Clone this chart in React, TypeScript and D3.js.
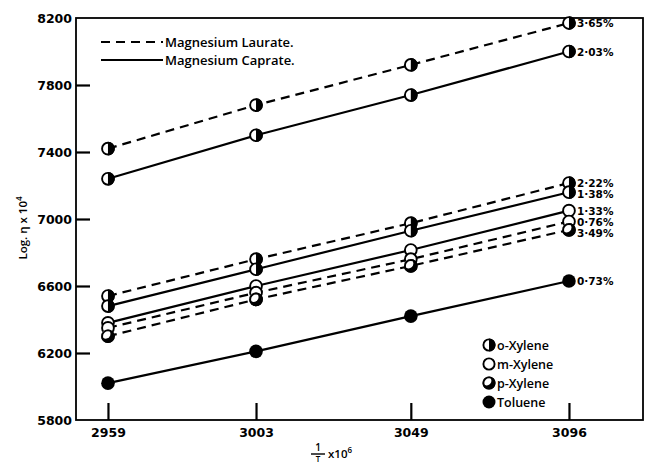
import { useEffect, useRef } from "react";
import * as d3 from "d3";

// 1/T x 10^6
const temps = [2959, 3003, 3049, 3096];
const yTickValues = [5800, 6200, 6600, 7000, 7400, 7800, 8200];

// log viscosity x 10^4
const oXyleneLaurateHigh = [7420, 7680, 7920, 8170];
const oXyleneCaprateHigh = [7240, 7500, 7740, 8000];
const oXyleneLaurateLow = [6540, 6760, 6975, 7215];
const oXyleneCaprateLow = [6480, 6700, 6930, 7160];
const mXyleneCaprate = [6380, 6600, 6815, 7050];
const mXyleneLaurate = [6350, 6560, 6760, 6985];
const pXyleneLaurate = [6300, 6520, 6720, 6935];
const tolueneCaprate = [6020, 6210, 6420, 6630];

const seriesList = [
    { values: oXyleneLaurateHigh, solvent: "o", dashed: true, label: "3·65%" },
    { values: oXyleneCaprateHigh, solvent: "o", dashed: false, label: "2·03%" },
    { values: oXyleneLaurateLow, solvent: "o", dashed: true, label: "2·22%" },
    { values: oXyleneCaprateLow, solvent: "o", dashed: false, label: "1·38%" },
    { values: mXyleneCaprate, solvent: "m", dashed: false, label: "1·33%" },
    { values: mXyleneLaurate, solvent: "m", dashed: true, label: "0·76%" },
    { values: pXyleneLaurate, solvent: "p", dashed: true, label: "3·49%" },
    { values: tolueneCaprate, solvent: "t", dashed: false, label: "0·73%" },
];

const solventLegend = [
    { solvent: "o", name: "o-Xylene" },
    { solvent: "m", name: "m-Xylene" },
    { solvent: "p", name: "p-Xylene" },
    { solvent: "t", name: "Toluene" },
];

const numFont = "'DejaVu Sans', sans-serif";
const textFont = "'Open Sans', sans-serif";

// draws one marker of the given solvent type into g, centred at (cx, cy)
const drawMarker = (g, cx, cy, solvent, r, idx) => {
    const m = g.append("g").attr("transform", `translate(${cx},${cy})`);
    if (solvent === "t") {
        m.append("circle").attr("r", r).attr("fill", "#000");
        return;
    }
    if (solvent === "m") {
        m.append("circle").attr("r", r - 0.9).attr("fill", "#fff").attr("stroke", "#000").attr("stroke-width", 1.9);
        return;
    }
    if (solvent === "o") {
        m.append("circle").attr("r", r - 0.9).attr("fill", "#fff").attr("stroke", "#000").attr("stroke-width", 1.9);
        m.append("path")
            .attr("d", `M0,${-r} A${r},${r} 0 0 1 0,${r} Z`)
            .attr("fill", "#000");
        return;
    }
    // p-xylene: mostly filled, white patch top-left
    const clipId = `pclip-${idx}`;
    m.append("clipPath").attr("id", clipId).append("circle").attr("r", r);
    m.append("circle").attr("r", r).attr("fill", "#000");
    m.append("circle")
        .attr("cx", -r * 0.35)
        .attr("cy", -r * 0.35)
        .attr("r", r * 0.72)
        .attr("fill", "#fff")
        .attr("clip-path", `url(#${clipId})`);
    m.append("circle").attr("r", r - 0.9).attr("fill", "none").attr("stroke", "#000").attr("stroke-width", 1.9);
};

const App = () => {
    const ref = useRef(null);

    useEffect(() => {
        document.body.style.margin = "0";
        const svg = d3.select(ref.current);
        svg.selectAll("*").remove();

        const left = 76;
        const right = 643;
        const top = 18;
        const bottom = 420;

        const x = d3.scaleLinear().domain([2949.5, 3118]).range([left, right]);
        const y = d3.scaleLinear().domain([5800, 8200]).range([bottom, top]);

        // frame
        svg.append("rect")
            .attr("x", left)
            .attr("y", top)
            .attr("width", right - left)
            .attr("height", bottom - top)
            .attr("fill", "none")
            .attr("stroke", "#000")
            .attr("stroke-width", 1.8);

        // y ticks (inward)
        const yAxis = svg.append("g")
            .attr("transform", `translate(${left},0)`)
            .call(d3.axisRight(y).tickValues(yTickValues).tickSize(14).tickFormat(d3.format("d")));
        yAxis.select(".domain").remove();
        yAxis.selectAll("line").attr("stroke", "#000").attr("stroke-width", 2.2);
        yAxis.selectAll("text")
            .attr("x", -4)
            .attr("text-anchor", "end")
            .attr("font-family", numFont)
            .attr("font-weight", "bold")
            .attr("font-size", 12.5)
            .attr("fill", "#000");
        yAxis.selectAll(".tick").filter(d => d === 5800 || d === 8200).select("line").remove();

        // x ticks (inward)
        const xAxis = svg.append("g")
            .attr("transform", `translate(0,${bottom})`)
            .call(d3.axisTop(x).tickValues(temps).tickSize(17).tickFormat(d3.format("d")));
        xAxis.select(".domain").remove();
        xAxis.selectAll("line").attr("stroke", "#000").attr("stroke-width", 2.2);
        xAxis.selectAll("text")
            .attr("y", 17)
            .attr("dy", 0)
            .attr("font-family", numFont)
            .attr("font-weight", "bold")
            .attr("font-size", 12.5)
            .attr("fill", "#000");

        // lines
        const line = d3.line()
            .x((d, i) => x(temps[i]))
            .y(d => y(d));

        seriesList.forEach(s => {
            svg.append("path")
                .datum(s.values)
                .attr("d", line)
                .attr("fill", "none")
                .attr("stroke", "#000")
                .attr("stroke-width", 2.2)
                .attr("stroke-dasharray", s.dashed ? "9,6" : null);
        });

        // markers
        let idx = 0;
        seriesList.forEach(s => {
            s.values.forEach((v, i) => {
                drawMarker(svg, x(temps[i]), y(v), s.solvent, 6.8, idx++);
            });
        });

        // concentration labels at the right end, pushed apart when they crowd
        let prevY = -Infinity;
        seriesList.forEach(s => {
            const last = s.values[s.values.length - 1];
            const ly = Math.max(y(last), prevY + 11.2);
            prevY = ly;
            svg.append("text")
                .attr("x", x(temps[temps.length - 1]) + 8)
                .attr("y", ly + 4)
                .attr("font-family", numFont)
                .attr("font-weight", "bold")
                .attr("font-size", 10.5)
                .attr("fill", "#000")
                .text(s.label);
        });

        // top-left legend
        const lg = svg.append("g");
        [
            { name: "Magnesium Laurate.", dashed: true, yy: 42 },
            { name: "Magnesium Caprate.", dashed: false, yy: 60 },
        ].forEach(item => {
            lg.append("line")
                .attr("x1", 101)
                .attr("x2", 163)
                .attr("y1", item.yy)
                .attr("y2", item.yy)
                .attr("stroke", "#000")
                .attr("stroke-width", 2)
                .attr("stroke-dasharray", item.dashed ? "9,6" : null);
            lg.append("text")
                .attr("x", 165)
                .attr("y", item.yy + 4.5)
                .attr("font-family", textFont)
                .attr("font-weight", 600)
                .attr("font-size", 13)
                .attr("fill", "#000")
                .text(item.name);
        });

        // solvent legend
        solventLegend.forEach((item, i) => {
            const yy = 345 + i * 19;
            drawMarker(svg, 489, yy, item.solvent, 6.5, 1000 + i);
            svg.append("text")
                .attr("x", 497)
                .attr("y", yy + 4.5)
                .attr("font-family", textFont)
                .attr("font-weight", 600)
                .attr("font-size", 12.5)
                .attr("fill", "#000")
                .text(item.name);
        });

        // y axis title
        const yt = svg.append("text")
            .attr("transform", `translate(27,228) rotate(-90)`)
            .attr("text-anchor", "middle")
            .attr("font-family", textFont)
            .attr("font-weight", 600)
            .attr("font-size", 11.5)
            .attr("fill", "#000");
        yt.append("tspan").text("Log. η x 10");
        yt.append("tspan").attr("dy", -5).attr("font-size", 8).text("4");

        // x axis title: 1/T x 10^6
        const xt = svg.append("g").attr("font-family", textFont).attr("font-weight", 600).attr("fill", "#000");
        xt.append("text").attr("x", 318).attr("y", 451).attr("text-anchor", "middle").attr("font-size", 10).text("1");
        xt.append("line").attr("x1", 311).attr("x2", 325).attr("y1", 454).attr("y2", 454).attr("stroke", "#000").attr("stroke-width", 1.4);
        xt.append("text").attr("x", 318).attr("y", 462).attr("text-anchor", "middle").attr("font-size", 8).text("T");
        const xl = xt.append("text").attr("x", 328).attr("y", 458).attr("font-size", 11.5);
        xl.append("tspan").text("x10");
        xl.append("tspan").attr("dy", -5).attr("font-size", 8).text("6");
    }, []);

    return <svg ref={ref} width={647} height={465} style={{ display: "block", background: "#fff" }} />;
};

export default App;
